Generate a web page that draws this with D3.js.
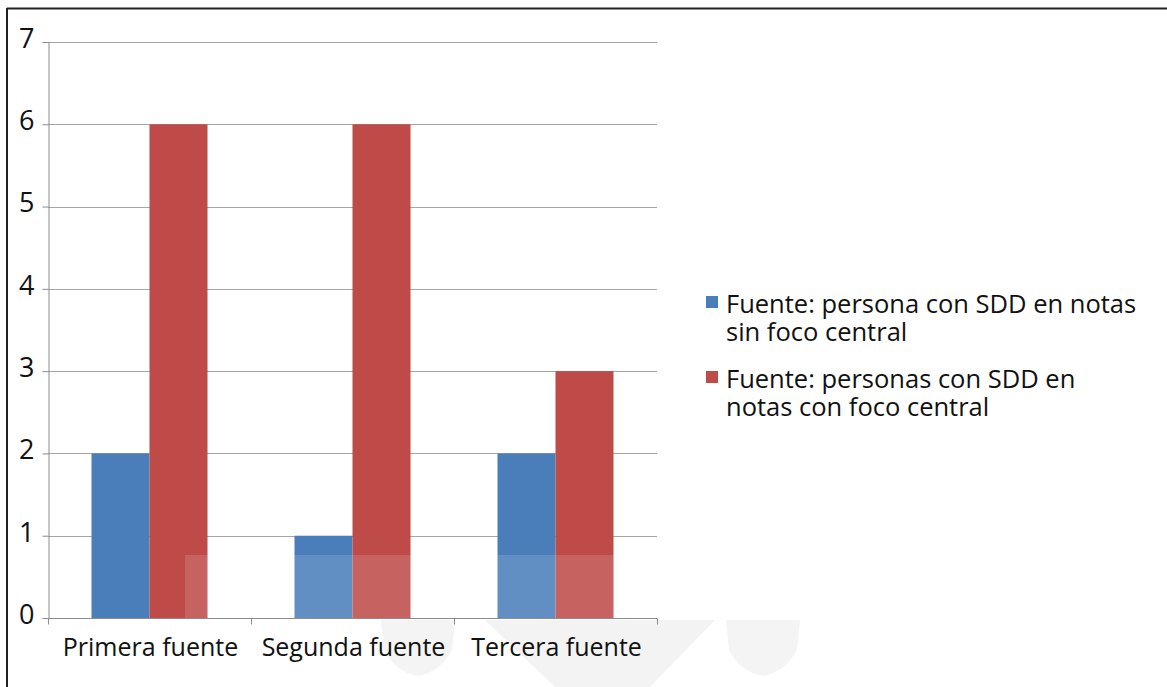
<!DOCTYPE html>
<html>
<head>
<meta charset="utf-8">
<script src="https://cdn.jsdelivr.net/npm/d3@7"></script>
<style>
  html, body { margin: 0; padding: 0; background: #fff; }
  svg { display: block; }
  text { font-family: "Open Sans", "Noto Sans", sans-serif; fill: #111; }
</style>
</head>
<body>
<svg id="chart" width="1167" height="687"></svg>
<script>
// Data
const categories = ["Primera fuente", "Segunda fuente", "Tercera fuente"];
const seriesNames = [
  ["Fuente: persona con SDD en notas", "sin foco central"],
  ["Fuente: personas con SDD en", "notas con foco central"]
];
const sinFoco = [2, 1, 2];
const conFoco = [6, 6, 3];
const yTicks = [0, 1, 2, 3, 4, 5, 6, 7];
const colors = ["#4a7ebb", "#be4b48"];

const svg = d3.select("#chart");
const W = 1167, H = 687;

// Outer frame (top and left edges)
svg.append("line").attr("x1", 7).attr("x2", W).attr("y1", 8.5).attr("y2", 8.5)
  .attr("stroke", "#222").attr("stroke-width", 2);
svg.append("line").attr("x1", 7).attr("x2", 7).attr("y1", 8).attr("y2", H)
  .attr("stroke", "#222").attr("stroke-width", 2);

const plot = { left: 48, right: 657, top: 42, bottom: 618 };

const x = d3.scaleBand().domain(categories)
  .range([plot.left, plot.right]).paddingInner(0).paddingOuter(0);
const y = d3.scaleLinear().domain([0, 7]).range([plot.bottom, plot.top]);
const inner = d3.scaleBand().domain([0, 1])
  .range([0, x.bandwidth()]).paddingInner(0).paddingOuter(0.75);

// Faint emblem shapes behind the category labels
const wm = svg.append("g").attr("pointer-events", "none");
wm.append("path")
  .attr("d", "M485,620 L715,620 L650,687 L555,687 Z")
  .attr("fill", "#ebebeb").attr("opacity", 0.6);
wm.append("path")
  .attr("d", "M381,620 L455,620 L452,650 Q440,672 418,676 Q395,672 384,650 Z")
  .attr("fill", "#ededed").attr("opacity", 0.6);
wm.append("path")
  .attr("d", "M726,620 L800,620 L797,650 Q785,672 763,676 Q740,672 729,650 Z")
  .attr("fill", "#ededed").attr("opacity", 0.6);

// Gridlines
svg.append("g").selectAll("line").data(yTicks.filter(d => d > 0)).join("line")
  .attr("x1", plot.left).attr("x2", plot.right)
  .attr("y1", d => Math.round(y(d)) + 0.5).attr("y2", d => Math.round(y(d)) + 0.5)
  .attr("stroke", "#a6a6a6").attr("stroke-width", 1);

// Bars
const series = [sinFoco, conFoco];
series.forEach((vals, si) => {
  svg.append("g").selectAll("rect").data(vals).join("rect")
    .attr("x", (d, i) => x(categories[i]) + inner(si))
    .attr("width", inner.bandwidth())
    .attr("y", d => y(d))
    .attr("height", d => y(0) - y(d))
    .attr("fill", colors[si]);
});

// Light band over the base of the bars
svg.append("rect").attr("x", 185).attr("y", 555).attr("width", 455).attr("height", plot.bottom - 555)
  .attr("fill", "#fff").attr("opacity", 0.13).attr("pointer-events", "none");

// Y axis
const yAxis = d3.axisLeft(y).tickValues(yTicks).tickSize(6).tickFormat(d3.format("d"));
const gy = svg.append("g").attr("transform", `translate(${plot.left + 0.5},0)`).call(yAxis);
gy.select(".domain").attr("stroke", "#8c8c8c");
gy.selectAll(".tick line").attr("stroke", "#8c8c8c");
gy.selectAll(".tick text").attr("x", -14).attr("dy", "0.2em")
  .style("font-size", "27px").style("fill", "#111");

// X axis
const gx = svg.append("g").attr("transform", `translate(0,${plot.bottom + 0.5})`);
gx.append("line").attr("x1", plot.left).attr("x2", plot.right)
  .attr("stroke", "#8c8c8c");
const xEdges = categories.map(c => x(c)).concat([plot.right]);
gx.selectAll("line.tk").data(xEdges).join("line").attr("class", "tk")
  .attr("x1", d => Math.round(d) + 0.5).attr("x2", d => Math.round(d) + 0.5)
  .attr("y1", 0).attr("y2", 6).attr("stroke", "#8c8c8c");
gx.selectAll("text").data(categories).join("text")
  .attr("x", d => x(d) + x.bandwidth() / 2 + 1).attr("y", 37)
  .attr("text-anchor", "middle").style("font-size", "25px").text(d => d);

// Legend: one text element per entry, wrapped onto two lines
const legend = svg.append("g").attr("transform", "translate(706,0)");
const legendY = [296, 371];
seriesNames.forEach((lines, i) => {
  legend.append("rect").attr("x", 0).attr("y", legendY[i]).attr("width", 12).attr("height", 12)
    .attr("fill", colors[i]);
  const t = legend.append("text").attr("x", 20).attr("y", legendY[i] + 17)
    .style("font-size", "25.5px");
  lines.forEach((s, j) => {
    t.append("tspan").attr("x", 20).attr("dy", j === 0 ? 0 : 28).text(s);
  });
});
</script>
</body>
</html>
